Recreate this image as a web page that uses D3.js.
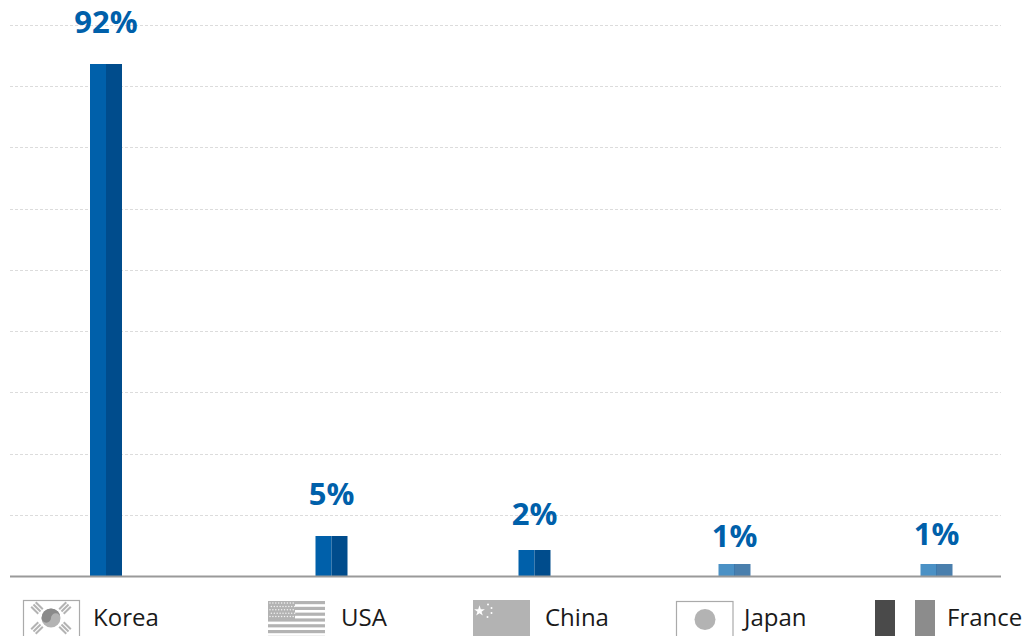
<!DOCTYPE html>
<html>
<head>
<meta charset="utf-8">
<script src="https://cdn.jsdelivr.net/npm/d3@7"></script>
<style>
html,body{margin:0;padding:0;background:#fff;overflow:hidden}
svg{display:block}
text{font-family:"Open Sans",sans-serif}
</style>
</head>
<body>
<svg id="chart" width="1026" height="636"></svg>
<script>
const countries = ["Korea", "USA", "China", "Japan", "France"];
const shares = [92, 5, 2, 1, 1];
const shareLabels = ["92%", "5%", "2%", "1%", "1%"];
const gridSteps = [0, 1, 2, 3, 4, 5, 6, 7, 8, 9];

const baseline = 576;
const svg = d3.select("#chart");

// The bar heights follow a stepped scale so the small shares stay legible.
const y = d3.scaleLinear().domain([0, 1, 2, 5, 92]).range([baseline, 564, 550, 536, 64]);
const x = d3.scaleOrdinal().domain(countries).range([106, 331.5, 534.5, 734.5, 936.5]);
const gridY = d3.scaleLinear().domain([0, 9]).range([baseline, 25]);

const barHalf = 15.5;
const labelGap = {Korea: 31, USA: 31, China: 25, Japan: 17, France: 19};

// Dashed guide lines
svg.append("g").selectAll("line").data(gridSteps.slice(1)).join("line")
  .attr("x1", 10).attr("x2", 1001)
  .attr("y1", d => Math.round(gridY(d)) + 0.5).attr("y2", d => Math.round(gridY(d)) + 0.5)
  .attr("stroke", "#dcdcdc").attr("stroke-width", 1).attr("stroke-dasharray", "3 2");

// Two-tone bars: a lighter front face and a darker side face
const rows = countries.map((c, i) => ({country: c, share: shares[i], label: shareLabels[i]}));
const bars = svg.append("g").selectAll("g").data(rows).join("g");
const faint = d => d.share <= 1;
bars.append("rect")
  .attr("x", d => x(d.country) - barHalf - 0.5).attr("width", barHalf + 0.5)
  .attr("y", d => y(d.share)).attr("height", d => baseline - y(d.share))
  .attr("fill", d => faint(d) ? "#4b91c5" : "#0060aa");
bars.append("rect")
  .attr("x", d => x(d.country)).attr("width", barHalf + 0.5)
  .attr("y", d => y(d.share)).attr("height", d => baseline - y(d.share))
  .attr("fill", d => faint(d) ? "#4a7fad" : "#004c8c");
bars.filter(faint).append("line")
  .attr("x1", d => x(d.country)).attr("x2", d => x(d.country))
  .attr("y1", d => y(d.share)).attr("y2", baseline)
  .attr("stroke", "#2f6fa6").attr("stroke-width", 0.8);

// Axis line
svg.append("line").attr("x1", 10).attr("x2", 1001).attr("y1", baseline + 0.5).attr("y2", baseline + 0.5)
  .attr("stroke", "#9a9a9a").attr("stroke-width", 2);

// Value labels
bars.append("text")
  .attr("x", d => x(d.country)).attr("y", d => y(d.share) - labelGap[d.country])
  .attr("text-anchor", "middle").attr("font-size", 31).attr("font-weight", 700)
  .attr("fill", "#0060aa").text(d => d.label);

// Legend: grey flag emblem and country name
const flagGrey = "#b3b3b3";
const flags = {
  Korea(g) {
    g.append("rect").attr("x", 23.5).attr("y", 600.5).attr("width", 56).attr("height", 50)
      .attr("fill", "#fff").attr("stroke", "#aaa").attr("stroke-width", 1.2);
    g.append("circle").attr("cx", 51).attr("cy", 618).attr("r", 9.5).attr("fill", flagGrey);
    g.append("path").attr("d", "M41.5 618a4.75 4.75 0 0 0 9.5 0a4.75 4.75 0 0 1 9.5 0a9.5 9.5 0 0 0 -19 0z").attr("fill", "#8a8a8a");
    [[37, 608, 45], [65, 608, -45], [37, 628, -45], [65, 628, 45]].forEach(([cx, cy, a]) => {
      [-3.2, 0, 3.2].forEach(o => {
        g.append("line").attr("x1", cx - 5).attr("x2", cx + 5).attr("y1", cy + o).attr("y2", cy + o)
          .attr("transform", `rotate(${a} ${cx} ${cy})`)
          .attr("stroke", flagGrey).attr("stroke-width", 2);
      });
    });
  },
  USA(g) {
    const stripes = d3.range(0, 7);
    g.append("g").selectAll("rect").data(stripes).join("rect")
      .attr("x", 268).attr("width", 57).attr("y", d => 601 + d * 5.8).attr("height", 3.2).attr("fill", flagGrey);
    g.append("rect").attr("x", 268).attr("y", 601).attr("width", 27).attr("height", 18).attr("fill", flagGrey);
    d3.range(0, 5).forEach(r => d3.range(0, 9).forEach(c => {
      g.append("circle").attr("cx", 270 + c * 2.9 + (r % 2) * 1.4).attr("cy", 603 + r * 3.4).attr("r", 0.75).attr("fill", "#f2f2f2");
    }));
  },
  China(g) {
    g.append("rect").attr("x", 473).attr("y", 600).attr("width", 57).attr("height", 40).attr("fill", flagGrey);
    g.append("path").attr("d", d3.symbol(d3.symbolStar, 36)).attr("transform", "translate(479.5,611)").attr("fill", "#fff");
    [[488, 604.5], [491.5, 608], [491.5, 613], [487.5, 617]].forEach(([cx, cy]) => {
      g.append("circle").attr("cx", cx).attr("cy", cy).attr("r", 1).attr("fill", "#fff");
    });
  },
  Japan(g) {
    g.append("rect").attr("x", 676.5).attr("y", 601.5).attr("width", 56.5).attr("height", 50)
      .attr("fill", "#fff").attr("stroke", "#aaa").attr("stroke-width", 1.2);
    g.append("circle").attr("cx", 705).attr("cy", 619.5).attr("r", 10.5).attr("fill", flagGrey);
  },
  France(g) {
    g.append("rect").attr("x", 875).attr("y", 600).attr("width", 20).attr("height", 40).attr("fill", "#4a4a4a");
    g.append("rect").attr("x", 915).attr("y", 600).attr("width", 20).attr("height", 40).attr("fill", "#8c8c8c");
  }
};
const legendTextX = {Korea: 93, USA: 341, China: 545, Japan: 744, France: 947};
const legend = svg.append("g").selectAll("g").data(countries).join("g");
legend.each(function (c) { flags[c](d3.select(this)); });
legend.append("text").attr("x", c => legendTextX[c]).attr("y", 626)
  .attr("font-size", 24).attr("fill", "#1a1a1a").text(c => c);
</script>
</body>
</html>
